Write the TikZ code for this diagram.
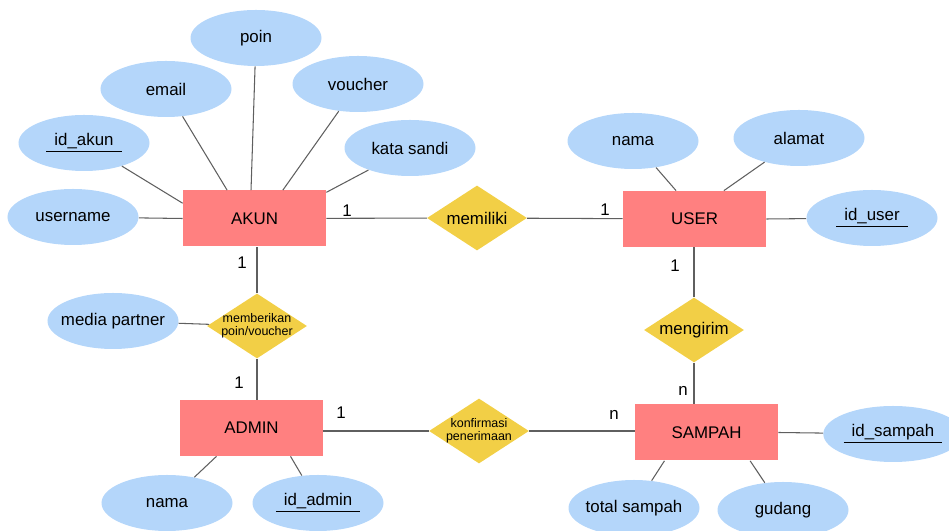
\documentclass[tikz,border=0pt]{standalone}
\usepackage{fontspec}
\setmainfont{Liberation Sans}
\usetikzlibrary{shapes.geometric}
\definecolor{entCol}{RGB}{255,128,128}
\definecolor{attrCol}{RGB}{180,214,250}
\definecolor{relCol}{RGB}{242,207,70}
\definecolor{lineCol}{RGB}{95,95,95}
\tikzset{
  ent/.style={rectangle,fill=entCol,minimum width=28.6mm,minimum height=11.2mm,
              font=\fontsize{9.6}{11}\selectfont},
  attr/.style={ellipse,fill=attrCol,minimum width=26.2mm,minimum height=11.2mm,
               inner sep=0pt,font=\fontsize{9.6}{11}\selectfont},
  rel/.style={diamond,fill=relCol,minimum width=20mm,minimum height=13mm,
              inner sep=-2mm,aspect=1.55,font=\fontsize{9.6}{11}\selectfont},
  relsm/.style={rel,align=center,font=\fontsize{7.1}{7.6}\selectfont},
  link/.style={draw=lineCol,line width=0.6pt},
  card/.style={font=\fontsize{9.6}{11}\selectfont,inner sep=0pt},
}
\newcommand{\pk}[1]{\underline{\hspace{1.6mm}#1\hspace{1.6mm}}}

\begin{document}
\begin{tikzpicture}[x=0.2mm,y=-0.2mm]
  \useasboundingbox (0,0) rectangle (949,531);
  \node[ent] (akun) at (254.5,218.5) {AKUN};
  \node[ent] (user) at (694.5,219) {USER};
  \node[ent] (admin) at (251.5,428) {ADMIN};
  \node[ent] (sampah) at (706.5,432.5) {SAMPAH};
  \node[rel] (mil) at (477,218) {memiliki};
  \node[relsm] (beri) at (257,326) {memberikan\\poin/voucher};
  \node[rel] (kirim) at (694,330) {mengirim};
  \node[relsm] (konf) at (479,431) {konfirmasi\\penerimaan};
  \node[attr] (poin) at (256,38) {poin};
  \node[attr] (email) at (166,89) {email};
  \node[attr] (voucher) at (358,84) {voucher};
  \node[attr] (idakun) at (84,143) {\pk{id\_akun}};
  \node[attr] (sandi) at (410,148) {kata sandi};
  \node[attr] (uname) at (73,217) {username};
  \node[attr] (unama) at (633,141) {nama};
  \node[attr] (alamat) at (799,138) {alamat};
  \node[attr] (iduser) at (872,218) {\pk{id\_user}};
  \node[attr,inner xsep=-1.6mm] (media) at (113,321) {media partner};
  \node[attr] (anama) at (167,503) {nama};
  \node[attr] (idadmin) at (318,503) {\pk{id\_admin}};
  \node[attr] (idsampah) at (893,434) {\pk{id\_sampah}};
  \node[attr,inner xsep=-0.6mm] (total) at (634,508) {total sampah};
  \node[attr] (gudang) at (783,510) {gudang};
  \draw[link] (uname) -- (akun.west);
  \draw[link] (idakun) -- (akun.168);
  \draw[link] (email) -- (akun.134);
  \draw[link] (poin) -- (akun.97);
  \draw[link] (voucher) -- (akun.45);
  \draw[link] (sandi) -- (akun.20);
  \draw[link] (unama) -- (user.123);
  \draw[link] (alamat) -- (user.44);
  \draw[link] (iduser) -- (user.east);
  \draw[link] (media) -- (beri);
  \draw[link] (anama) -- (admin.-141);
  \draw[link] (idadmin) -- (admin.-36);
  \draw[link] (idsampah) -- (sampah.east);
  \draw[link] (total) -- (sampah.-146);
  \draw[link] (gudang) -- (sampah.-33);
  \draw[link] (akun) -- (mil);
  \draw[link] (mil) -- (user);
  \draw[link] (beri.north) -- (beri.north |- akun.south);
  \draw[link] (beri.south) -- (beri.south |- admin.north);
  \draw[link] (kirim.north) -- (kirim.north |- user.south);
  \draw[link] (kirim.south) -- (kirim.south |- sampah.north);
  \draw[link] (konf.west) -- (konf.west -| admin.east);
  \draw[link] (konf.east) -- (konf.east -| sampah.west);
  \node[card] (c1) at (347,211) {1};
  \node[card] (c2) at (605,210) {1};
  \node[card] (c3) at (242,263) {1};
  \node[card] (c4) at (239,383) {1};
  \node[card] (c5) at (675,266) {1};
  \node[card] (c6) at (683,391) {n};
  \node[card] (c7) at (341,413) {1};
  \node[card] (c8) at (614,415) {n};
\end{tikzpicture}
\end{document}
